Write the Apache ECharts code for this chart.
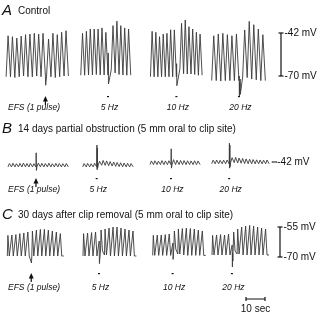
<!DOCTYPE html>
<html>
<head>
<meta charset="utf-8">
<script src="https://cdn.jsdelivr.net/npm/echarts@6/dist/echarts.min.js"></script>
<style>
  html, body { margin: 0; padding: 0; background: #fff; }
  #chart { width: 320px; height: 317px; }
</style>
</head>
<body>
<div id="chart"></div>
<script>
// 刺激标签
const stimLabels = ["EFS (1 pulse)", "5 Hz", "10 Hz", "20 Hz"];
const panelTitles = ["Control", "14 days partial obstruction (5 mm oral to clip site)", "30 days after clip removal (5 mm oral to clip site)"];
// 标尺 (mV / sec)
const scaleA = [-42, -70];
const scaleB = [-42];
const scaleC = [-55, -70];
const timeBar = [0, 10];

// A: control, slow-wave peaks / troughs (mV) for each cycle
const aPeaks = [
  [-43.8, -44.4, -45.3, -44, -43.1, -42.7, -42.2, -42.7, -42.2, -45.9, -42.2, -43.1, -41.5, -40.5],
  [-42.2, -40.9, -39.4, -39.4, -39.4, -38.7, -41.6, -37.2, -34.3, -37.2, -38.7, -39.4],
  [-40.9, -41.5, -44.4, -42.7, -42.2, -39.9, -40, -35.7, -33.5, -37.9, -39.4, -41.5, -42.7],
  [-43.8, -42.7, -42.2, -43.1, -43.8, -42.7, -40, -34.4, -36.6, -39.4, -43.1],
];
const aTroughs = [
  [-70.5, -70.5, -71, -70.5, -70, -70.5, -70.5, -70, -70.5, -70, -70.5, -71, -70.5, -70],
  [-69.5, -69.5, -69.3, -69.3, -69, -69.3, -69.3, -66, -68, -69, -69.3, -69.5],
  [-70.5, -70.5, -70.5, -70.5, -70.5, -70.5, -70.5, -65.4, -68.5, -68.7, -68.7, -69, -69.5],
  [-73, -73, -73.3, -73, -73, -73, -70.6, -71, -72, -72.5, -73],
];
const aPeriod = [2.3, 2.05, 1.95, 2.39];
const aStim = [
  { after: 8, gap: 0.6, spikes: [-76] },
  { after: 6, gap: 1.7, spikes: [-55, -75.2] },
  { after: 6, gap: 1.84, spikes: [-62, -76.3] },
  { after: 5, gap: 1.95, spikes: [-70, -83, -74, -80, -72, -82] },
];

// B: 14 days partial obstruction
const bPeaks = [
  [-43, -42.8, -43.1, -42.9, -42.7, -43, -42.8, -43.1, -42.7, -42.9, -43, -42.8, -43.1, -42.9, -43, -43.1, -43],
  [-43, -42.9, -43.1, -42.8, -41.5, -41, -41.3, -41.7, -42, -42.3, -42.5, -42.7, -42.8, -43],
  [-41.3, -41.2, -41.4, -41.1, -41.3, -41.2, -40.5, -40.8, -41, -41.1, -41.2, -41.3, -41.2, -41.3],
  [-40.8, -40.7, -40.9, -40.8, -40.7, -39.2, -39, -39.4, -39.7, -40, -40.2, -40.4, -40.6, -40.7, -40.8, -40.7],
];
const bTroughs = [
  [-45.2, -45.2, -45.2, -45.2, -45.2, -45.2, -45.2, -45.2, -45.2, -45.2, -45.2, -45.2, -45.2, -45.2, -45.2, -45.2, -45.2],
  [-45.2, -45.2, -45.2, -45.2, -44, -44.1, -44.2, -44.4, -44.6, -44.8, -45, -45.1, -45.2, -45.2],
  [-43.7, -43.7, -43.7, -43.7, -43.7, -43.7, -43.7, -43.7, -43.7, -43.7, -43.7, -43.7, -43.7, -43.7],
  [-43.2, -43.2, -43.2, -43.2, -43.2, -42.2, -42.4, -42.6, -42.8, -43, -43.1, -43.2, -43.2, -43.2, -43.2, -43.2],
];
const bPeriod = [1.84, 1.84, 1.84, 1.84];
const bStim = [
  { after: 7, gap: 0.5, spikes: [-36, -47.5] },
  { after: 3, gap: 0.8, spikes: [-31, -47, -33, -46] },
  { after: 5, gap: 0.6, spikes: [-33.4, -46] },
  { after: 4, gap: 0.8, spikes: [-29.8, -46, -31, -45] },
];

// C: 30 days after clip removal
const cPeaks = [
  [-59.2, -59, -58.8, -58.3, -58, -57.5, -57, -56.5, -56.2, -56.2, -56.5, -57, -57.5, -58.3],
  [-58.3, -58, -57.8, -57.5, -56.5, -56, -55.5, -55, -55, -55.5, -56, -56.5, -57],
  [-59.2, -59, -59, -58.8, -58.5, -57, -56, -55.8, -55.5, -55.8, -56, -56.5, -57],
  [-59.2, -59, -58.8, -59, -58.5, -57.5, -56, -55, -54.5, -54.2, -54.5, -55, -55.5, -56],
];
const cTroughs = [
  [-69.5, -69.5, -69.5, -69.5, -69.5, -69.5, -69.5, -69.5, -69.5, -69.5, -69.5, -69.5, -69.5, -69.5],
  [-69.5, -69.5, -69.5, -69.5, -67, -69, -69.5, -69.5, -69.5, -69.5, -69.5, -69.5, -69.5],
  [-69.2, -69.2, -69.2, -69.2, -69.2, -66, -68.5, -69, -69.2, -69.2, -69.2, -69.2, -69.2],
  [-69, -69, -69, -69, -69, -67, -68.5, -69, -69, -69, -69, -69, -69, -69],
];
const cPeriod = [2.1, 2.1, 2.1, 2.1];
const cStim = [
  { after: 5, gap: 0.3, spikes: [-73] },
  { after: 3, gap: 0.8, spikes: [-62, -73.3] },
  { after: 4, gap: 0.6, spikes: [-63, -71.2] },
  { after: 4, gap: 0.6, spikes: [-64, -75, -68, -72] },
];

// 布局
const FONT = '"Liberation Sans", Arial, sans-serif';
const INK = "#111";
const pxPerSec = 19 / 10;
const panels = [
  { letter: "A", titleY: 10.5, refMv: -42, refY: 33, k: 43 / 28, min: -90, max: -30,
    xs: [6.1, 80.75, 150.45, 211.7], peaks: aPeaks, troughs: aTroughs, period: aPeriod, stim: aStim,
    shape: [0, 0.45, 0.55, 1], markY: 96, labelY: 108 },
  { letter: "B", titleY: 128.5, refMv: -42, refY: 162, k: 43 / 28, min: -55, max: -25,
    xs: [8, 82.7, 150, 211.7], peaks: bPeaks, troughs: bTroughs, period: bPeriod, stim: bStim,
    shape: [0, 0.4, 0.6, 1], markY: 178, labelY: 190 },
  { letter: "C", titleY: 215, refMv: -55, refY: 227, k: 2, min: -80, max: -45,
    xs: [7.3, 83, 152.7, 212], peaks: cPeaks, troughs: cTroughs, period: cPeriod, stim: cStim,
    shape: [0, 0.15, 0.35, 0.5], markY: 273, labelY: 288 },
];

function buildTrace(peaks, troughs, P, stim, f) {
  const pts = [];
  let t = 0;
  let stimT = 0;
  for (let i = 0; i < peaks.length; i++) {
    const lo = troughs[i];
    const endLo = i === stim.after || i === peaks.length - 1 ? lo : troughs[i + 1];
    pts.push([t + f[0] * P, lo]);
    pts.push([t + f[1] * P, peaks[i]]);
    pts.push([t + f[2] * P, peaks[i]]);
    pts.push([t + f[3] * P, f[3] < 1 ? lo : endLo]);
    if (f[3] < 1) pts.push([t + P, endLo]);
    t += P;
    if (i === stim.after) {
      stimT = t;
      stim.spikes.forEach((v, k) => pts.push([t + (k + 1) * 0.12, v]));
      t += stim.gap;
      pts.push([t, troughs[i + 1]]);
    }
  }
  return { pts, stimT };
}

const grid = [], xAxis = [], yAxis = [], series = [], graphic = [];
function addGrid(left, top, width, height, xmin, xmax, ymin, ymax) {
  grid.push({ left, top, width, height });
  const idx = grid.length - 1;
  xAxis.push({ type: "value", gridIndex: idx, min: xmin, max: xmax, show: false });
  yAxis.push({ type: "value", gridIndex: idx, min: ymin, max: ymax, show: false });
  return idx;
}

const gw = 75;
panels.forEach((p, pi) => {
  const top = p.refY - (p.max - p.refMv) * p.k;
  const height = (p.max - p.min) * p.k;
  p.top = top; p.height = height;
  // 标题
  graphic.push({ type: "text", x: 2, y: p.titleY,
    style: { text: p.letter, font: "italic 15px " + FONT, fill: INK, textVerticalAlign: "middle" } });
  graphic.push({ type: "text", x: 18, y: p.titleY + 0.5,
    style: { text: panelTitles[pi], font: "10px " + FONT, fill: INK, textVerticalAlign: "middle" } });

  p.xs.forEach((x0, j) => {
    const gi = addGrid(x0, top, gw, height, 0, gw / pxPerSec, p.min, p.max);
    const tr = buildTrace(p.peaks[j], p.troughs[j], p.period[j], p.stim[j], p.shape);
    series.push({
      type: "line", xAxisIndex: gi, yAxisIndex: gi, data: tr.pts,
      showSymbol: false, silent: true,
      lineStyle: { color: "#3a3a3a", width: 0.9 },
    });
    const sx = x0 + tr.stimT * pxPerSec;
    if (j === 0) {
      graphic.push({ type: "polygon", shape: { points: [[sx, p.markY], [sx - 2.5, p.markY + 5.5], [sx + 2.5, p.markY + 5.5]] },
        style: { fill: INK } });
      graphic.push({ type: "line", shape: { x1: sx, y1: p.markY + 5, x2: sx, y2: p.markY + 9 },
        style: { stroke: INK, lineWidth: 1.2 } });
      graphic.push({ type: "text", x: 8, y: p.labelY,
        style: { text: stimLabels[0], font: "italic 8.5px " + FONT, fill: INK, textVerticalAlign: "middle" } });
    } else {
      graphic.push({ type: "rect", shape: { x: sx - 1, y: p.markY, width: 2, height: 1.2 }, style: { fill: INK } });
      graphic.push({ type: "text", x: sx + 1.5, y: p.labelY,
        style: { text: stimLabels[j], font: "italic 8.5px " + FONT, fill: INK, textAlign: "center", textVerticalAlign: "middle" } });
    }
  });
});

// 电压标尺
function addScale(p, barX, values, serif) {
  const gi = addGrid(barX - 10, p.top, 20, p.height, -1, 1, p.min, p.max);
  series.push({
    type: "line", xAxisIndex: gi, yAxisIndex: gi, silent: true,
    data: values.map((v) => [0, v]),
    symbol: "rect", symbolSize: serif,
    itemStyle: { color: INK },
    lineStyle: { color: INK, width: 1.2 },
    label: { show: true, position: "right", distance: 1, color: INK, fontSize: 10, fontFamily: FONT,
      formatter: (d) => d.value[1] + " mV" },
  });
}
addScale(panels[0], 281, scaleA, [5, 1.2]);
addScale(panels[2], 280, scaleC, [5, 1.2]);
// B 参考线
(function () {
  const p = panels[1];
  const gi = addGrid(262, p.top, 20, p.height, -1, 1, p.min, p.max);
  series.push({
    type: "line", xAxisIndex: gi, yAxisIndex: gi, silent: true,
    data: [[0, scaleB[0]], { value: [0.5, scaleB[0]], label: { show: true } }],
    symbol: "rect", symbolSize: [0.5, 1],
    itemStyle: { color: INK },
    lineStyle: { color: INK, width: 1 },
    label: { show: false, position: "right", distance: 0, color: INK, fontSize: 10, fontFamily: FONT,
      formatter: (d) => d.value[1] + " mV" },
  });
})();
// 时间标尺
(function () {
  const len = (timeBar[1] - timeBar[0]) * pxPerSec;
  const gi = addGrid(246, 296, len, 6, timeBar[0], timeBar[1], 0, 1);
  series.push({
    type: "line", xAxisIndex: gi, yAxisIndex: gi, silent: true,
    data: timeBar.map((t) => [t, 0.5]),
    symbol: "rect", symbolSize: [1.2, 4],
    itemStyle: { color: INK },
    lineStyle: { color: INK, width: 1.2 },
  });
  graphic.push({ type: "text", x: 246 + len / 2, y: 309,
    style: { text: (timeBar[1] - timeBar[0]) + " sec", font: "10px " + FONT, fill: INK, textAlign: "center", textVerticalAlign: "middle" } });
})();

const myChart = echarts.init(document.getElementById("chart"));
myChart.setOption({
  animation: false,
  backgroundColor: "#fff",
  grid, xAxis, yAxis, series, graphic,
});
</script>
</body>
</html>
